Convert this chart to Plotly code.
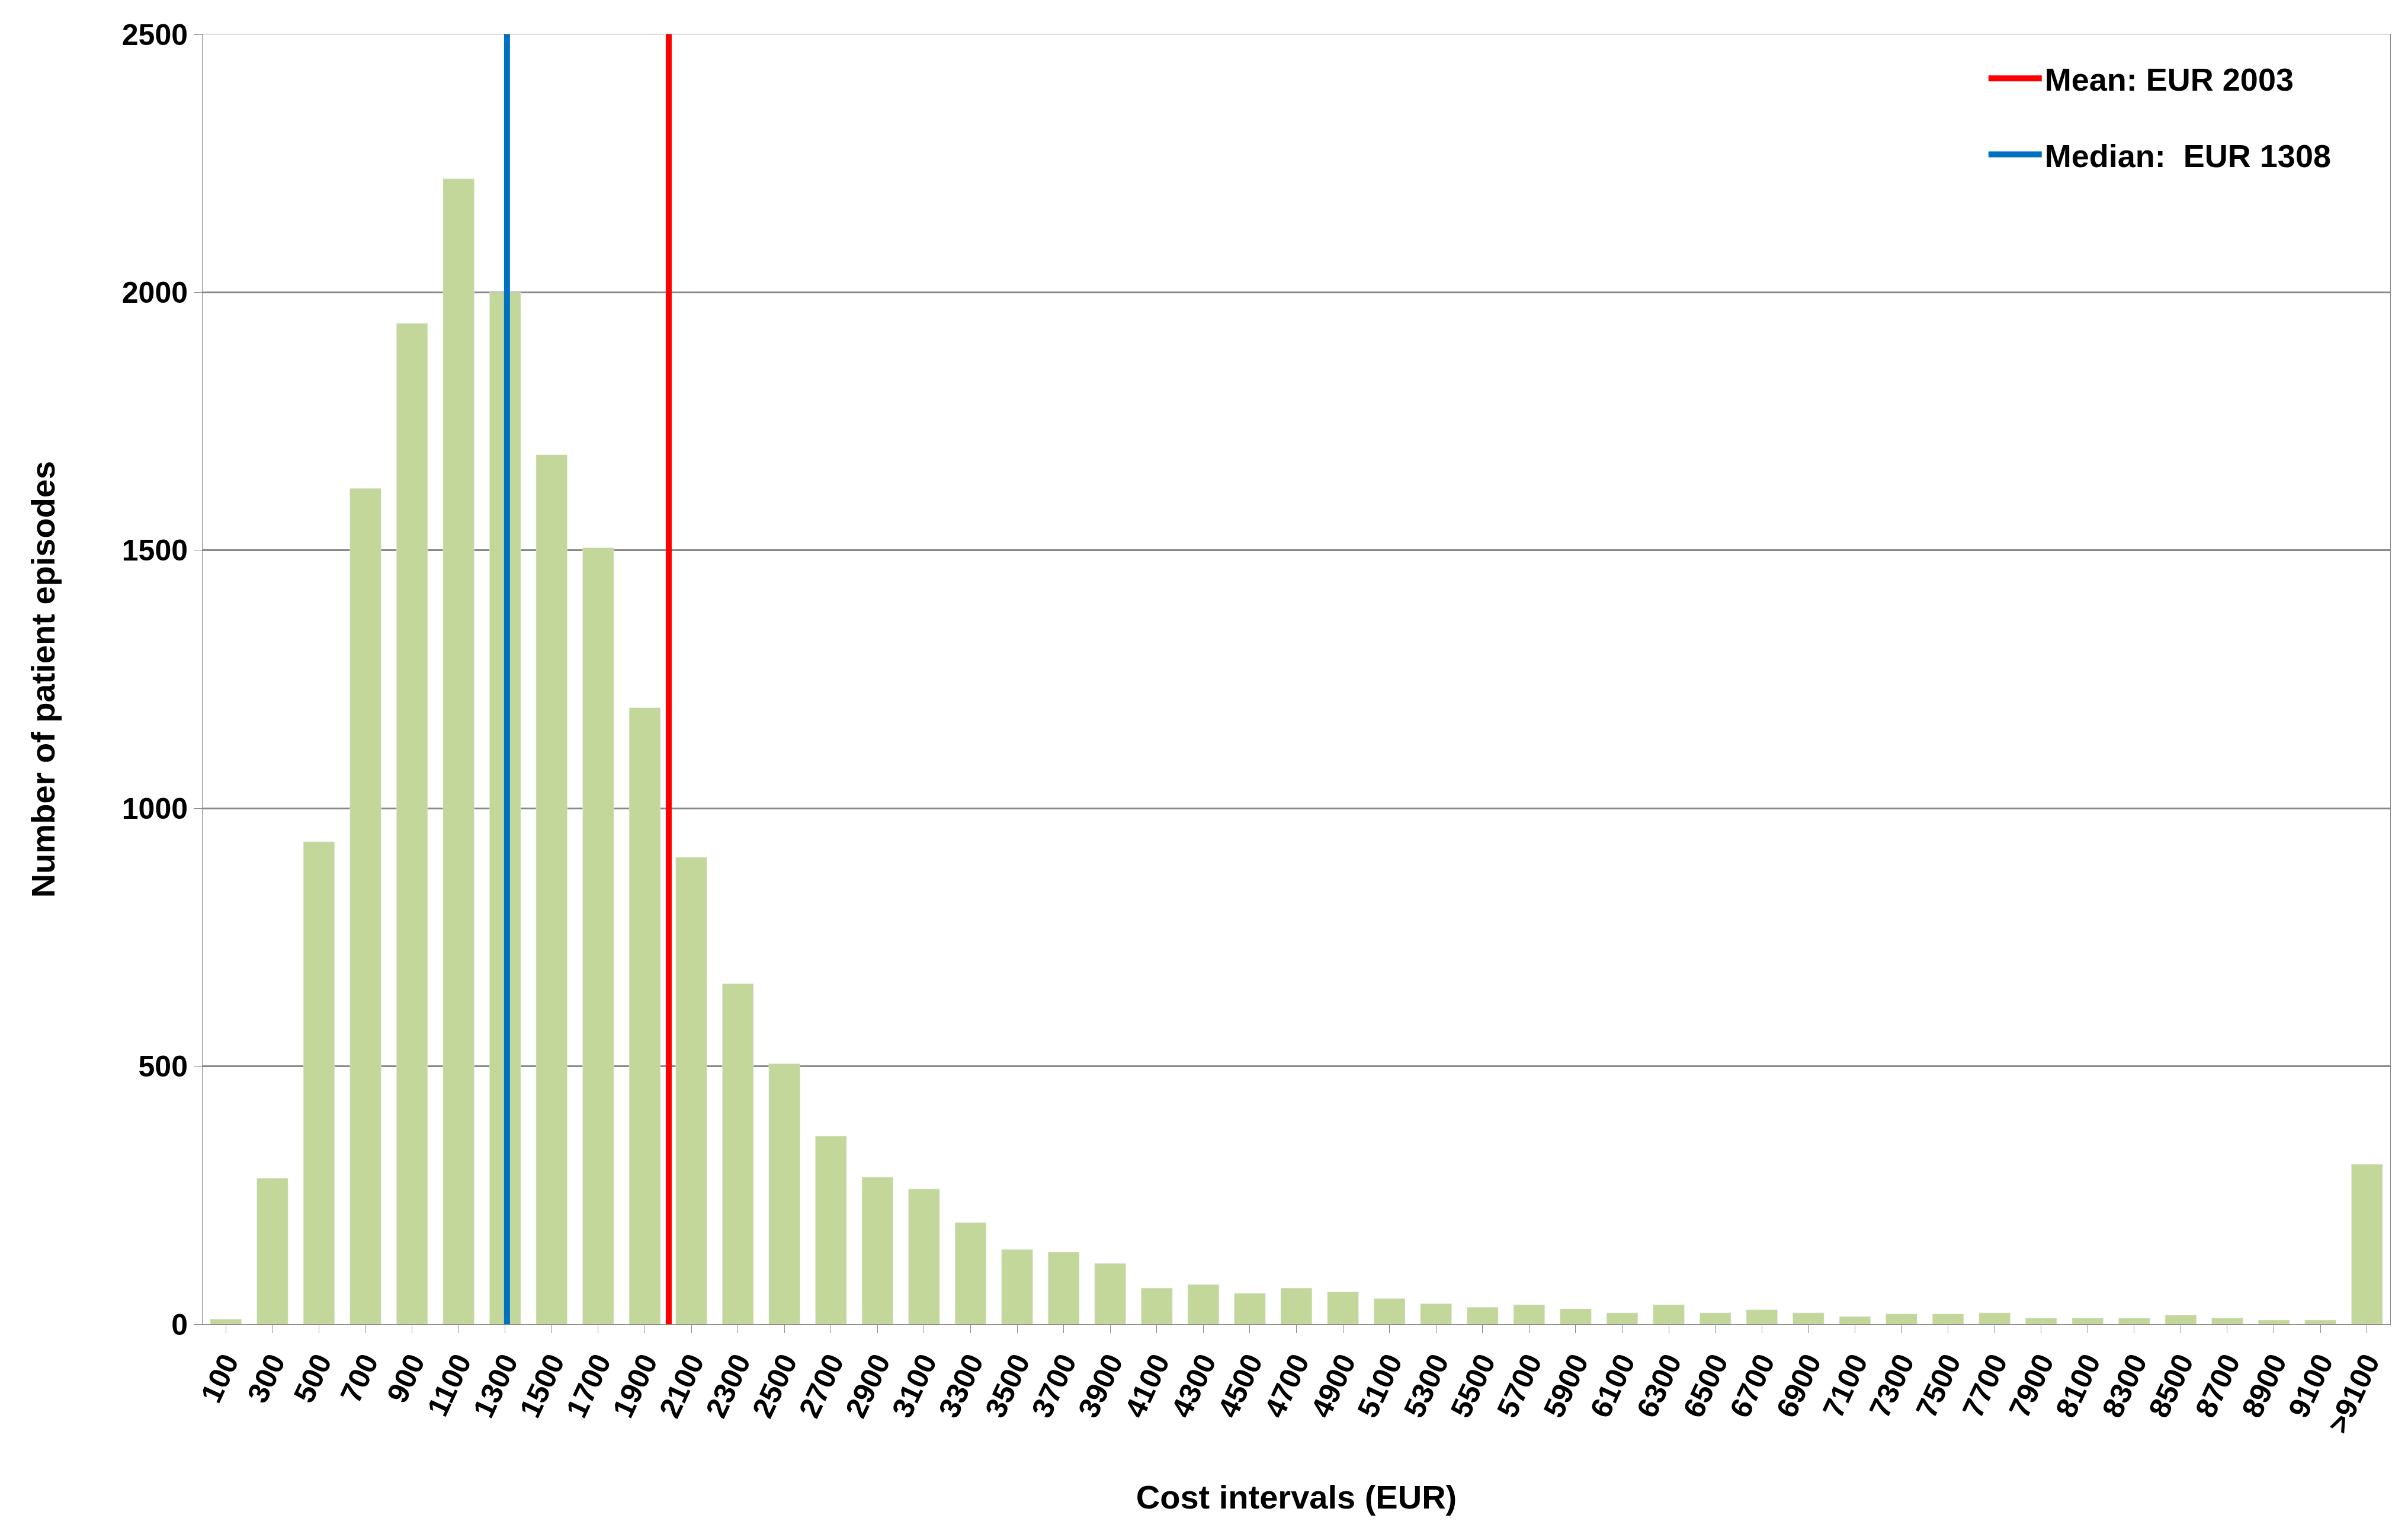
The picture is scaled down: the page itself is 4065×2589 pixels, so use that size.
import plotly.graph_objects as go

categories = [str(v) for v in range(100, 9101, 200)] + [">9100"]
counts = [10, 283, 935, 1620, 1940, 2220, 2000, 1685, 1505, 1195, 905, 660, 505, 365, 285, 262,
          197, 145, 140, 118, 70, 77, 60, 70, 63, 50, 40, 33, 38, 30, 22, 38, 22, 28, 22, 15,
          20, 20, 22, 12, 12, 12, 18, 12, 8, 8, 310]
mean_value = 2003
median_value = 1308

def pos(v):
    return (v - 100) / 200

font = "Liberation Sans Narrow, Liberation Sans, Arial"
fig = go.Figure()
fig.add_trace(go.Bar(x=list(range(len(categories))), y=counts, marker_color="#C4D79B",
                     showlegend=False))
fig.add_trace(go.Scatter(x=[pos(mean_value)] * 2, y=[0, 2500], mode="lines", legendgroup="a",
                         line=dict(color="#FF0000", width=10), name="<b>Mean: EUR 2003</b>"))
fig.add_trace(go.Scatter(x=[pos(median_value)] * 2, y=[0, 2500], mode="lines", legendgroup="b",
                         line=dict(color="#0070C0", width=10), name="<b>Median:  EUR 1308</b>"))

fig.update_layout(
    width=4065, height=2589, plot_bgcolor="white", paper_bgcolor="white",
    margin=dict(l=334, r=38, t=50, b=362),
    font=dict(family=font, size=50, color="black"),
    bargap=0.33,
    legend=dict(x=0.815, y=0.985, xanchor="left", yanchor="top", bgcolor="rgba(0,0,0,0)",
                font=dict(size=54), tracegroupgap=55, itemwidth=90),
    xaxis=dict(range=[-0.5, len(categories) - 0.5], tickmode="array",
               tickvals=list(range(len(categories))), ticktext=[f"<b>{c}</b>" for c in categories],
               tickangle=-65, showline=True, linecolor="#888", mirror=True, ticks="outside",
               ticklen=14, tickcolor="#888", showgrid=False,
               title=dict(text="<b>Cost intervals (EUR)</b>", font=dict(size=56), standoff=80)),
    yaxis=dict(range=[0, 2500], dtick=500, tickformat="d", showline=True, linecolor="#888",
               mirror=True, gridcolor="#888", gridwidth=3, ticks="outside", ticklen=14,
               tickcolor="#888", tickprefix="<b>", ticksuffix="</b>", zeroline=False,
               title=dict(text="<b>Number of patient episodes</b>", font=dict(size=56), standoff=95)),
)
fig.write_html("out.html")
